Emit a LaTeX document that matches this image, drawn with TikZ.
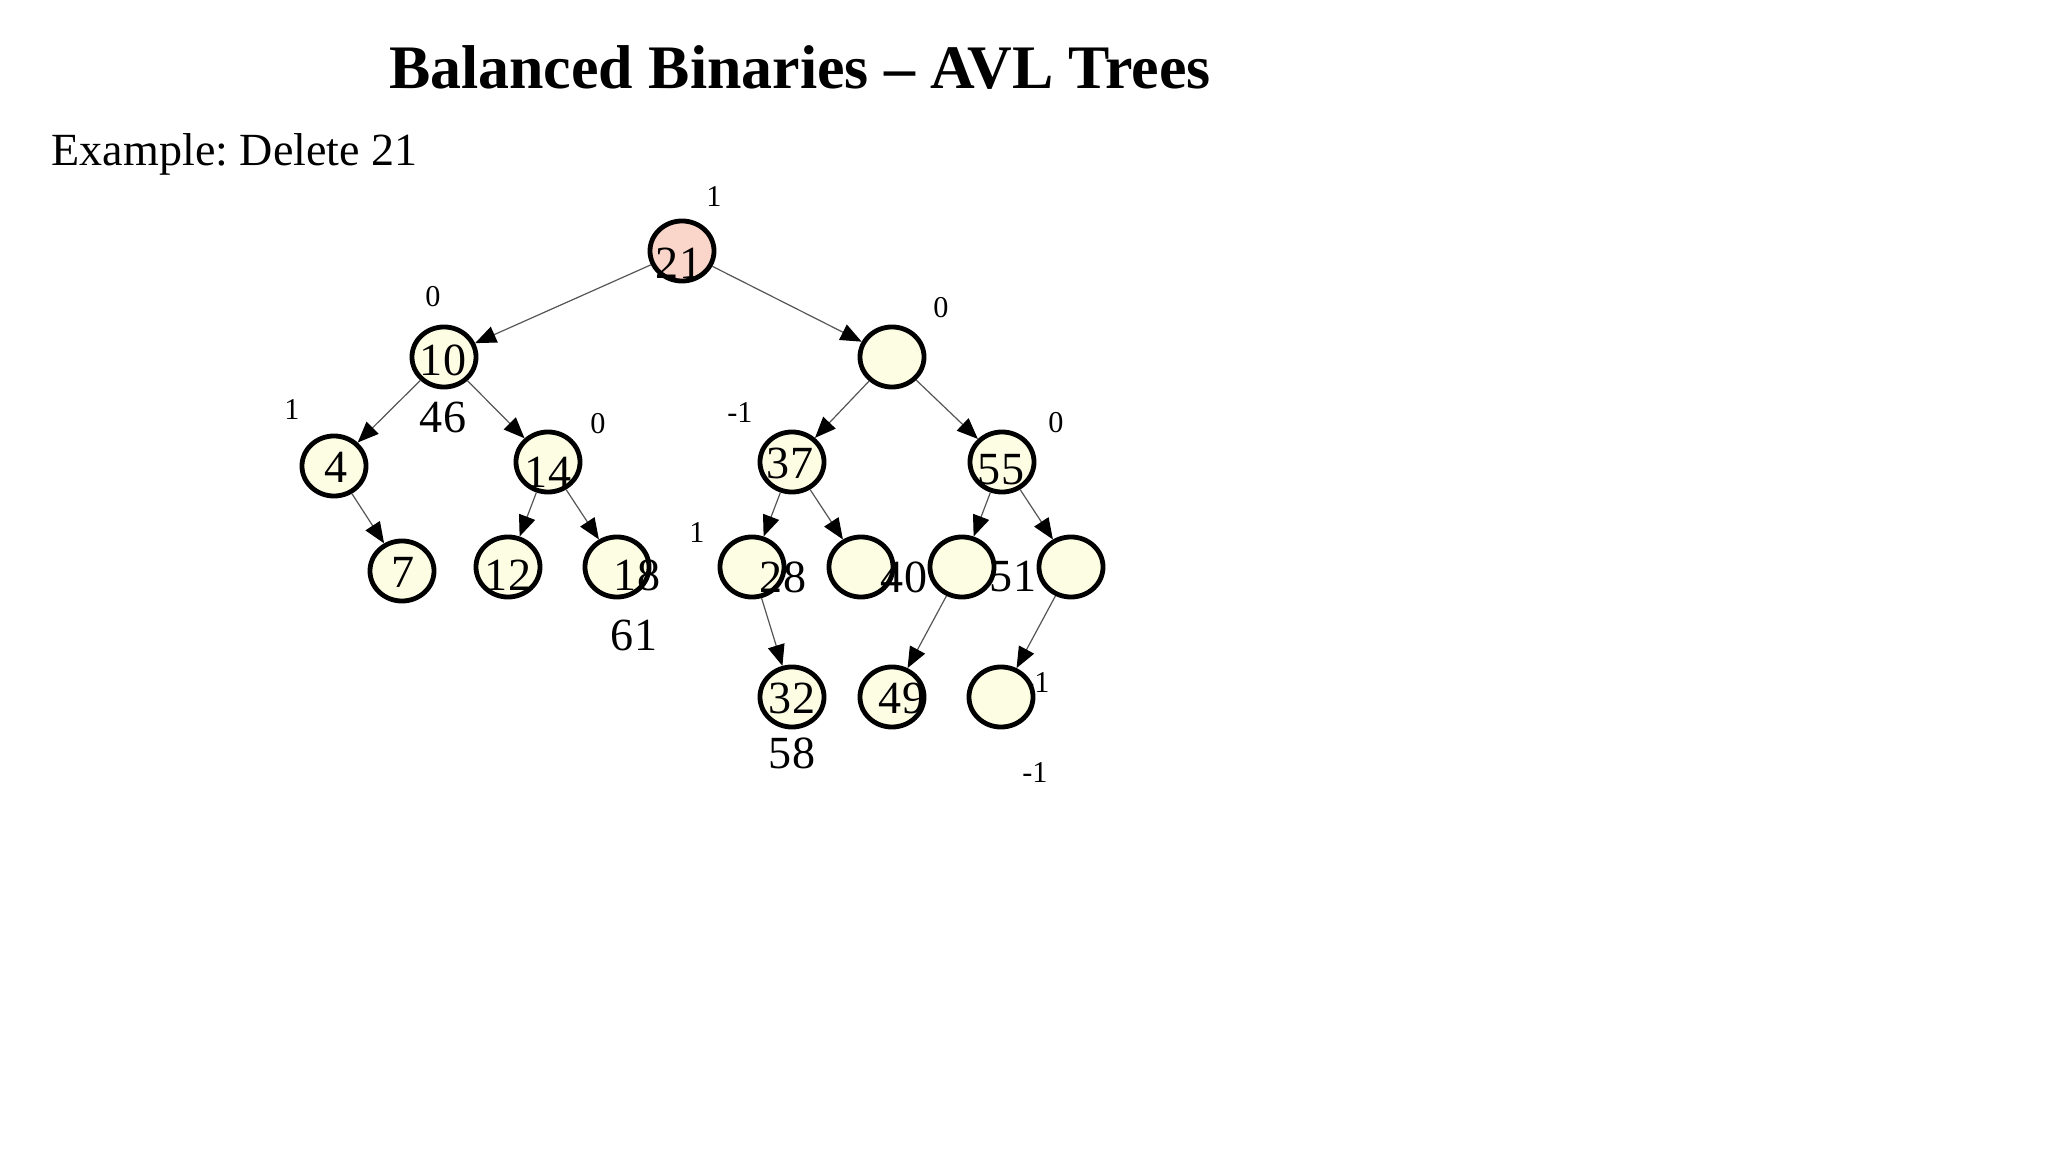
\documentclass[tikz,border=0pt]{standalone}
\usepackage{fontspec}
\setmainfont{Liberation Serif}
\usetikzlibrary{arrows.meta,shapes.geometric}

\definecolor{leafyellow}{HTML}{FDFDE4}
\definecolor{rootpink}{HTML}{FAD5C9}
\definecolor{edgegray}{HTML}{555555}

\begin{document}
\frenchspacing
\begin{tikzpicture}[
        x=0.01cm,
        y=-0.01cm,
        tnode/.style={
            ellipse,
            draw,
            line width=0.48mm,
            fill=leafyellow,
            minimum width=0.64cm,
            minimum height=0.6cm,
            inner sep=0pt
        },
        key/.style={
            inner sep=0pt,
            font=\fontsize{13.1}{15}\selectfont
        },
        bal/.style={
            inner sep=0pt,
            font=\fontsize{8.6}{10}\selectfont
        },
        arrow/.style={
            -{Triangle[length=2.1mm,width=1.7mm,color=black]},
            draw=edgegray,
            line width=0.12mm
        }
    ]

        \useasboundingbox (0,0) rectangle (2048,1152);

        \node[anchor=base, font=\bfseries\fontsize{17.6}{21}\selectfont] (title) at (800,89) {Balanced Binaries -- AVL Trees};
        \node[anchor=base west, inner sep=0pt, font=\fontsize{13.1}{16}\selectfont] (example) at (51,166) {Example: Delete 21};

        \node[bal] (bE) at (1037,683) {-1};

        \node[tnode, fill=rootpink] (root) at (682,251) {};
        \node[tnode] (n10) at (444,357) {};
        \node[tnode] (nR) at (892,357) {};
        \node[tnode] (n4) at (334,466) {};
        \node[tnode] (n14) at (548,462) {};
        \node[tnode] (n37) at (792,462) {};
        \node[tnode] (n55) at (1002,462) {};
        \node[tnode] (n7) at (402,571) {};
        \node[tnode] (n12) at (508,567) {};
        \node[tnode] (n18) at (617,567) {};
        \node[tnode] (nA) at (752,567) {};
        \node[tnode] (nB) at (861,567) {};
        \node[tnode] (nC) at (962,567) {};
        \node[tnode] (nD) at (1071,567) {};
        \node[tnode] (n32) at (792,697) {};
        \node[tnode] (n49) at (892,697) {};
        \node[tnode] (nE) at (1001,697) {};

        \draw[arrow] (root) -- (n10);
        \draw[arrow] (root) -- (nR);
        \draw[arrow] (n10) -- (n4);
        \draw[arrow] (n10) -- (n14);
        \draw[arrow] (nR) -- (n37);
        \draw[arrow] (nR) -- (n55);
        \draw[arrow] (n4) -- (n7);
        \draw[arrow] (n14) -- (n12);
        \draw[arrow] (n14) -- (n18);
        \draw[arrow] (n37) -- (nA);
        \draw[arrow] (n37) -- (nB);
        \draw[arrow] (n55) -- (nC);
        \draw[arrow] (n55) -- (nD);
        \draw[arrow] (nA) -- (n32);
        \draw[arrow] (nC) -- (n49);
        \draw[arrow] (nD) -- (nE);

        \node[key] (k21) at (679,263) {21};
        \node[key] (k10) at (443,360) {10};
        \node[key] (k4) at (336,467) {4};
        \node[key] (k14) at (548,472) {14};
        \node[key] (k37) at (790,463) {37};
        \node[key] (k55) at (1001,470) {55};
        \node[key] (k7) at (403,572) {7};
        \node[key] (k12) at (508,575) {12};
        \node[key] (k18) at (637,575) {18};
        \node[key] (k28) at (783,577) {28};
        \node[key] (k40) at (904,577) {40};
        \node[key] (k51) at (1013,577) {51};
        \node[key] (k32) at (792,698) {32};
        \node[key] (k49) at (902,698) {49};
        \node[key] (k46) at (443,417) {46};
        \node[key] (k61) at (634,635) {61};
        \node[key] (k58) at (792,753) {58};

        \node[bal] (bRoot) at (714,197) {1};
        \node[bal] (b10) at (433,297) {0};
        \node[bal] (bR) at (941,308) {0};
        \node[bal] (b4) at (292,410) {1};
        \node[bal] (b14) at (598,424) {0};
        \node[bal] (b37) at (740,413) {-1};
        \node[bal] (b55) at (1056,423) {0};
        \node[bal] (bA) at (697,533) {1};
        \node[bal] (bLow) at (1035,773) {-1};

    \end{tikzpicture}
\end{document}
